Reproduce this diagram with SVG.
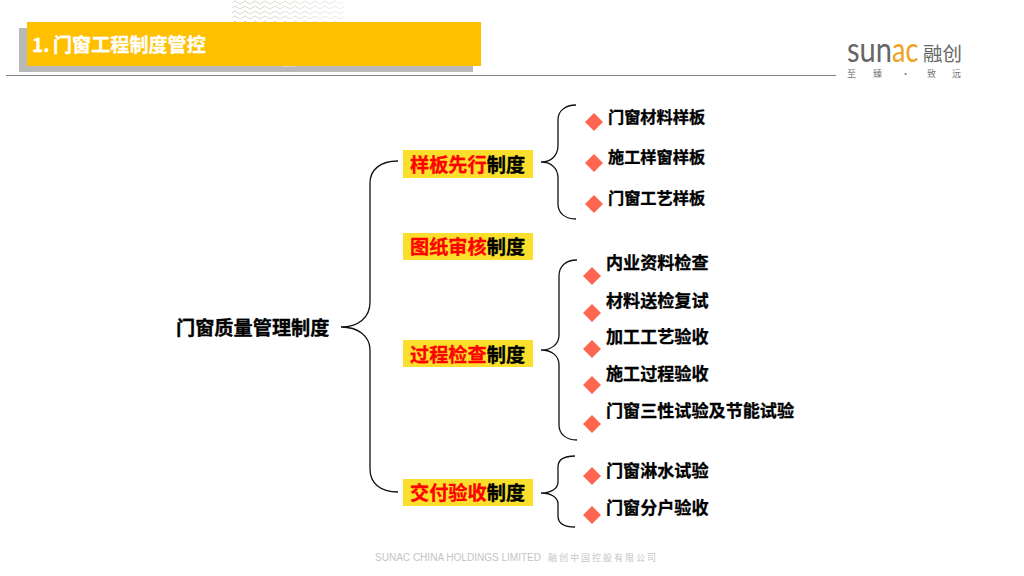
<svg xmlns="http://www.w3.org/2000/svg" width="1024" height="576" viewBox="0 0 1024 576">
<defs>
<pattern id="zig" width="10" height="5" patternUnits="userSpaceOnUse">
<path d="M0 4L5 1L10 4" fill="none" stroke="#d6d3c8" stroke-width="1"/>
</pattern>
<linearGradient id="fade" x1="0" x2="1" y1="0" y2="0"><stop offset="0" stop-color="#fff" stop-opacity="0"/><stop offset="1" stop-color="#fff" stop-opacity=".55"/></linearGradient>
</defs>
<style>
text{font-family:"Noto Sans CJK SC","Liberation Sans",sans-serif;font-weight:700}
.lg{font-weight:400}
.la{font-family:Lato,sans-serif;font-weight:400;font-size:35px}
.b{fill:none;stroke:#111;stroke-width:1.300}
.l{fill:#fae02c}
.t{font-size:19.200px;fill:#000;stroke:#000;stroke-width:.3}
.r{fill:#f00;stroke:#f00}
.i{font-size:16.200px;fill:#000;stroke:#000;stroke-width:.3}
.j{font-size:17.100px;fill:#000;stroke:#000;stroke-width:.3}
.d{fill:#ff6650}
.s{font-size:9px;fill:#777}
</style>
<rect width="1024" height="576" fill="#fff"/>
<g id="header">
<rect x="19" y="28" width="454" height="44" fill="#b9b9b9"/>
<circle cx="288" cy="11" r="56" fill="url(#zig)"/>
<circle cx="288" cy="11" r="56" fill="url(#fade)"/>
<rect x="27" y="22" width="454" height="44" fill="#ffc000"/>
<text x="32" y="52" font-size="19.100" fill="#fff" stroke="#fff" stroke-width=".3">1.<tspan x="53">门窗工程制度管控</tspan></text>
<path d="M6 75.500H836" stroke="#808080" stroke-width="1.200"/>
</g>
<g id="logo">
<text class="la" transform="translate(847 62) scale(.83 1)" fill="#666">sun</text>
<text class="la" transform="translate(892 62) scale(.77 1)" fill="#f0a21e">ac</text>
<text x="923" y="61" font-size="19.500" fill="#666" class="lg">融创</text>
<text x="847" y="77" class="s lg">至</text>
<text x="873" y="77" class="s lg">臻</text>
<text x="901" y="77" class="s lg">·</text>
<text x="927" y="77" class="s lg">致</text>
<text x="952" y="77" class="s lg">远</text>
</g>
<g id="connectors">
<path class="b" d="M398 161C380 161 370 170 370 183V302C370 318 358 327 341 327C358 327 370 336 370 350V469C370 483 380 492 398 492"/>
<path class="b" d="M576 105C565 105 558 111 558 120V145C558 155 552 162 541 162C552 162 558 169 558 178V204C558 213 565 219 576 219"/>
<path class="b" d="M577 260C566 260 559 266 559 276V335C559 344 552 350 541 350C552 350 559 356 559 365V425C559 434 566 440 577 440"/>
<path class="b" d="M575 456C564 456 558 460 558 467V482C558 488 552 493 541 493C552 493 558 498 558 504V516C558 523 564 527 575 527"/>
</g>
<g id="root"><text class="t" x="176" y="335">门窗质量管理制度</text></g>
<g id="n1"><rect class="l" x="403" y="150" width="130" height="28"/><text class="t" x="410" y="172"><tspan class="r">样板先行</tspan>制度</text></g>
<g id="n2"><rect class="l" x="403" y="233" width="130" height="27"/><text class="t" x="410" y="254"><tspan class="r">图纸审核</tspan>制度</text></g>
<g id="n3"><rect class="l" x="403" y="340" width="130" height="27"/><text class="t" x="410" y="361.500"><tspan class="r">过程检查</tspan>制度</text></g>
<g id="n4"><rect class="l" x="403" y="479" width="130" height="27"/><text class="t" x="410" y="500"><tspan class="r">交付验收</tspan>制度</text></g>
<g id="i1"><path class="d" d="M594 113l9 9l-9 9l-9-9z"/><text class="i" x="608" y="122.500">门窗材料样板</text></g>
<g id="i2"><path class="d" d="M594 154l9 9l-9 9l-9-9z"/><text class="i" x="608" y="163">施工样窗样板</text></g>
<g id="i3"><path class="d" d="M594 195l9 9l-9 9l-9-9z"/><text class="i" x="608" y="204">门窗工艺样板</text></g>
<g id="i4"><path class="d" d="M592 267l9 9l-9 9l-9-9z"/><text class="j" x="606" y="269">内业资料检查</text></g>
<g id="i5"><path class="d" d="M592 304l9 9l-9 9l-9-9z"/><text class="j" x="606" y="306.500">材料送检复试</text></g>
<g id="i6"><path class="d" d="M592 340l9 9l-9 9l-9-9z"/><text class="j" x="606" y="343">加工工艺验收</text></g>
<g id="i7"><path class="d" d="M592 376l9 9l-9 9l-9-9z"/><text class="j" x="606" y="379.500">施工过程验收</text></g>
<g id="i8"><path class="d" d="M592 415l9 9l-9 9l-9-9z"/><text class="j" x="606" y="416.500">门窗三性试验及节能试验</text></g>
<g id="i9"><path class="d" d="M592 467l9 9l-9 9l-9-9z"/><text class="j" x="606" y="477">门窗淋水试验</text></g>
<g id="i10"><path class="d" d="M592 506l9 9l-9 9l-9-9z"/><text class="j" x="606" y="513.500">门窗分户验收</text></g>
<g id="footer"><text x="375" y="561" font-size="10" fill="#c4c4c4" style="font-family:'Liberation Sans',sans-serif;font-weight:400" textLength="166">SUNAC CHINA HOLDINGS LIMITED</text><text x="548" y="561" font-size="9" fill="#c4c4c4" class="lg" textLength="108">融创中国控股有限公司</text></g>
</svg>
